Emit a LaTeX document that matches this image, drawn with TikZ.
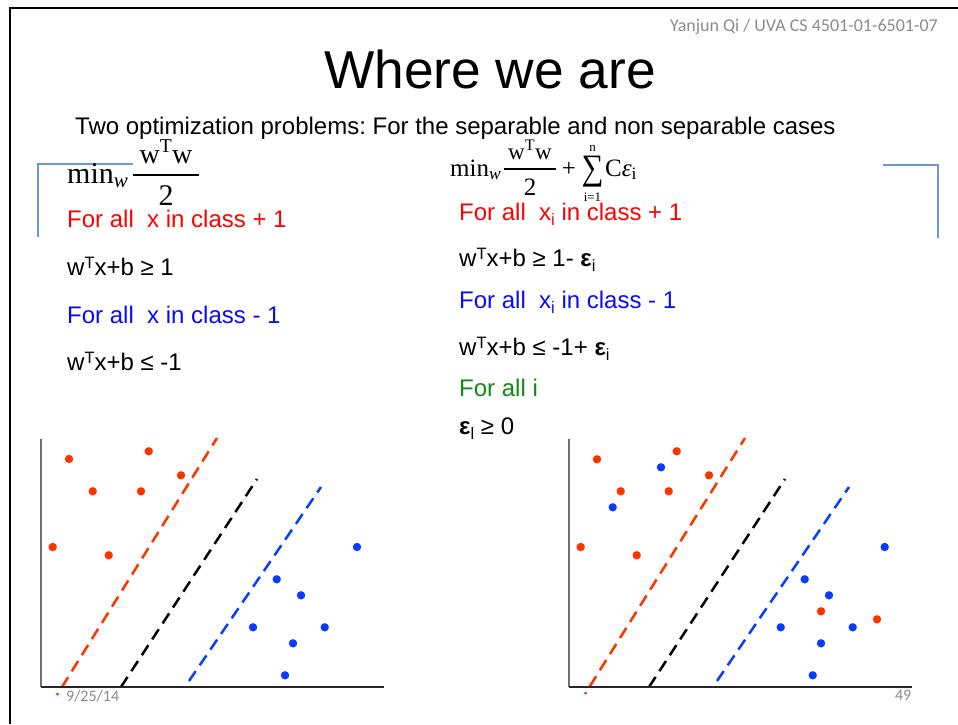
\RequirePackage{fix-cm}
\documentclass[tikz,border=0pt]{standalone}
\usepackage{fontspec}
\setmainfont{Liberation Sans}
\newfontfamily\tmsfont{Liberation Serif}
\newfontfamily\hdrfont{Carlito}
\frenchspacing
\newcommand\lsub[1]{\raisebox{-5pt}{\fontsize{16.5}{18}\selectfont #1}}
\newcommand\lsup[1]{\raisebox{6.5pt}{\fontsize{16.5}{18}\selectfont #1}}
\definecolor{hdrgray}{HTML}{8C8C8C}
\definecolor{ptred}{HTML}{FF3300}
\definecolor{ptblue}{HTML}{0A3CFF}
\definecolor{txtred}{HTML}{FF0000}
\definecolor{txtblue}{HTML}{0A0AFF}
\definecolor{txtgreen}{HTML}{118A11}
\definecolor{brk}{HTML}{6A9AD4}
\definecolor{axgray}{HTML}{707070}
\tikzset{
  body/.style={anchor=base west, inner sep=0, font=\fontsize{24}{28}\selectfont},
  fml/.style={inner sep=0, font=\tmsfont\fontsize{30}{34}\selectfont},
  fmr/.style={inner sep=0, font=\tmsfont\fontsize{25}{29}\selectfont},
  small/.style={inner sep=0, font=\hdrfont\fontsize{16}{18}\selectfont, text=hdrgray},
  rdot/.style={circle, fill=ptred, inner sep=0, minimum size=8.4pt},
  bdot/.style={circle, fill=ptblue, inner sep=0, minimum size=8.4pt},
  sep/.style={line width=2.5pt, dash pattern=on 12pt off 7pt},
  bracket/.style={draw=brk, line width=2pt},
  yax/.style={draw=axgray, line width=1.5pt},
  xax/.style={draw=black!85, line width=1.5pt}
}
\begin{document}
\begin{tikzpicture}[x=1pt,y=-1pt]
\useasboundingbox (0,0) rectangle (958,724);
\fill[white] (0,0) rectangle (958,724);
% frame
\draw[line width=2pt] (958,8) -- (10,8) -- (10,724);
% header
\node[anchor=base east, inner sep=0, font=\hdrfont\fontsize{18}{20}\selectfont, text=hdrgray] (hdr) at (938,31) {Yanjun Qi / UVA CS 4501-01-6501-07};
\node[anchor=base, inner sep=0, font=\fontsize{53.3}{60}\selectfont] (title) at (490,88) {Where we are};
\node[body] (sub) at (75,134) {Two optimization problems: For the separable and non separable cases};
% brackets
\draw[bracket] (133,164) -- (38,164) -- (38,237);
\draw[bracket] (883,165) -- (938,165) -- (938,238);
% left formula
\node[fml, anchor=base west] (lmin) at (67,183) {min\textsubscript{\itshape w}};
\node[fml, anchor=base, font=\tmsfont\fontsize{28}{32}\selectfont] (lnum) at (166,163) {w\textsuperscript{T}w};
\node[fml, anchor=base] (lden) at (166,205) {2};
\draw[line width=1.3pt] (133,175) -- (199,175);
% left constraints
\node[body, text=txtred] (l1) at (67,227) {For all~ x in class + 1};
\node[body] (l2) at (67,275) {w\lsup{T}x+b ≥ 1};
\node[body, text=txtblue] (l3) at (67,323) {For all~ x in class - 1};
\node[body] (l4) at (67,370) {w\lsup{T}x+b ≤ -1};
% right formula
\node[fmr, anchor=base west] (rmin) at (450,176) {min\textsubscript{\itshape w}};
\node[fmr, anchor=base, font=\tmsfont\fontsize{23}{27}\selectfont] (rnum) at (530,159) {w\textsuperscript{T}w};
\node[fmr, anchor=base] (rden) at (530,195) {2};
\draw[line width=1.1pt] (504,169) -- (556,169);
\node[fmr, anchor=base] (rplus) at (569,176) {+};
\node[inner sep=0] (rsum) at (592.5,172) {\resizebox*{22pt}{31pt}{\tmsfont ∑}};
\node[inner sep=0, anchor=base, font=\tmsfont\fontsize{13}{15}\selectfont] (rn) at (592.5,151) {n};
\node[inner sep=0, anchor=base, font=\tmsfont\fontsize{13}{15}\selectfont] (ri) at (592.5,201) {i=1};
\node[fmr, anchor=base west] (rce) at (605,176) {C\textit{ε}\textsubscript{i}};
% right constraints
\node[body, text=txtred] (r1) at (459,220) {For all~ x\lsub{i} in class + 1};
\node[body] (r2) at (459,266) {w\lsup{T}x+b ≥ 1- \textbf{ε}\lsub{i}};
\node[body, text=txtblue] (r3) at (459,308) {For all~ x\lsub{i} in class - 1};
\node[body] (r4) at (459,355) {w\lsup{T}x+b ≤ -1+ \textbf{ε}\lsub{i}};
\node[body, text=txtgreen] (r5) at (459,396) {For all i};
\node[body] (r6) at (459,434) {\textbf{ε}\lsub{l} ≥ 0};
% left plot
\draw[sep, draw=ptred, dash phase=10pt] (57,695) -- (217,438);
\draw[sep, draw=black] (121,687) -- (257,479);
\draw[sep, draw=ptblue] (189,681) -- (321,487);
\draw[yax] (41,439) -- (41,687);
\draw[xax] (41,687) -- (384,687);
\foreach \p [count=\k] in {(69,459),(148.7,451.3),(181,475.3),(92.7,491.3),(141,491.3),(52.7,547),(108.7,555.3)}
  \node[rdot] (lr\k) at \p {};
\foreach \p [count=\k] in {(357,547),(276.7,579.3),(301,595.3),(253,627.3),(324.7,627.3),(293,643.3),(285,675.3)}
  \node[bdot] (lb\k) at \p {};
% right plot
\draw[sep, draw=ptred, dash phase=10pt] (585,694) -- (745,438);
\draw[sep, draw=black] (649,687) -- (785,479);
\draw[sep, draw=ptblue] (717,681) -- (849,487);
\draw[yax] (569,439) -- (569,687);
\draw[xax] (569,687) -- (912,687);
\foreach \p [count=\k] in {(597,459.3),(676.7,451.3),(709,475.3),(620.7,491.3),(668.7,491.3),(580.7,547),(636.7,555.3),(821,611.3),(877,619.3)}
  \node[rdot] (rr\k) at \p {};
\foreach \p [count=\k] in {(661,467.3),(612.7,507.3),(884.7,547),(804.7,579.3),(829,595.3),(780.7,627.3),(852.7,627.3),(821,643.3),(812.7,675.3)}
  \node[bdot] (rb\k) at \p {};
% footer
\node[small, anchor=base west] (date) at (66,701) {9/25/14};
\node[small, anchor=base east] (pg) at (911.5,700) {49};
\end{tikzpicture}
\end{document}
